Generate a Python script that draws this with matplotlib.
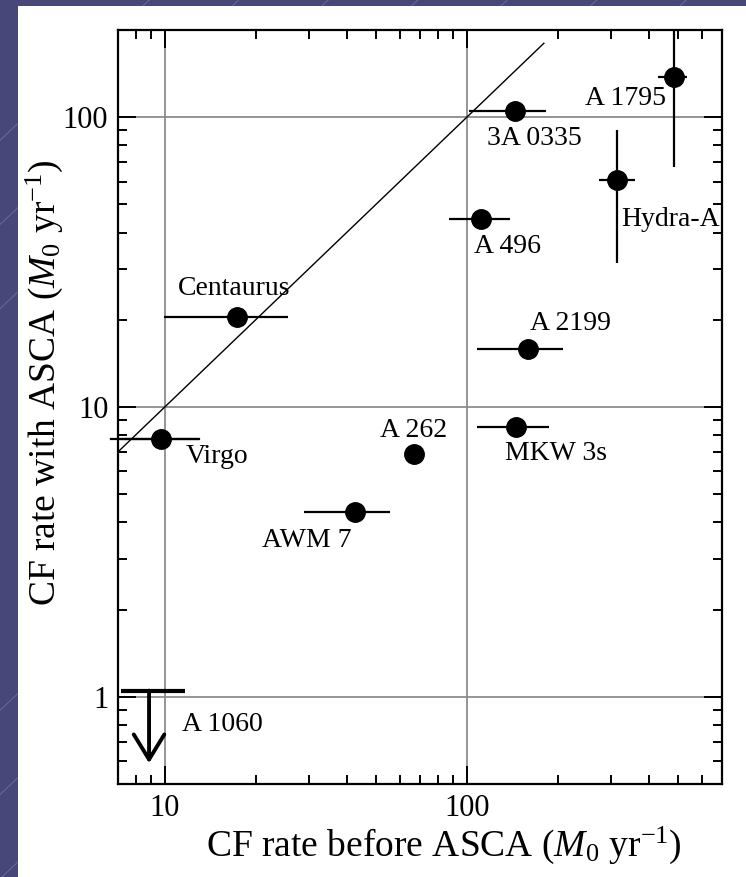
import matplotlib.pyplot as plt
from matplotlib.patches import Rectangle
from matplotlib.lines import Line2D
from matplotlib.ticker import FixedLocator, NullFormatter, FuncFormatter

plt.rcParams['font.family'] = ['Liberation Serif', 'DejaVu Serif']
plt.rcParams['mathtext.fontset'] = 'custom'
plt.rcParams['mathtext.rm'] = 'Liberation Serif'
plt.rcParams['mathtext.it'] = 'Liberation Serif:italic'

# cooling-flow clusters: rate before ASCA (x) vs rate with ASCA (y)
names = ['Virgo', 'Centaurus', 'AWM 7', 'A 262', '3A 0335', 'A 496',
         'A 2199', 'MKW 3s', 'Hydra-A', 'A 1795']
cf_before = [9.7, 17.3, 42.6, 66.8, 144.5, 111.8, 159, 146, 315, 484]
cf_asca = [7.74, 20.4, 4.35, 6.9, 105, 44.7, 15.9, 8.53, 60.5, 138]
x_lo = [6.65, 9.92, 29.0, 66.8, 101.8, 87.3, 108, 108, 275, 430]
x_hi = [13.0, 25.5, 55.6, 66.8, 183, 139, 208, 187.5, 361, 537]
y_lo = [7.74, 20.4, 4.35, 6.9, 105, 44.7, 15.9, 8.53, 31.5, 67.3]
y_hi = [7.74, 20.4, 4.35, 6.9, 105, 44.7, 15.9, 8.53, 90, 200]

# where each name sits (left edge, baseline)
label_x = [11.7, 11.07, 21.0, 51.7, 117, 105.7, 161.8, 133.6, 325, 245.5]
label_y = [6.41, 24.4, 3.29, 7.88, 80, 34.1, 18.4, 6.55, 42.1, 110.6]

# A 1060 only has an upper limit
lim_x = [7.14, 11.7]
lim_y = 1.05
lim_arrow_x = 8.87
lim_arrow_tip = 0.59

# equal-rate line
eq_line = [7, 180]

fig = plt.figure(figsize=(7.46, 8.77), dpi=100)
fig.patch.set_facecolor('#47477a')

# faint diagonal streaks on the slide background
for k in range(14):
    x0 = -0.3 + k * 0.12
    fig.add_artist(Line2D([x0, x0 + 0.5], [-0.05, 0.35],
                          transform=fig.transFigure, color='#8a8ab8',
                          lw=0.6, alpha=0.6, zorder=-3))
    fig.add_artist(Line2D([x0, x0 + 0.5], [0.6, 1.0],
                          transform=fig.transFigure, color='#8a8ab8',
                          lw=0.6, alpha=0.6, zorder=-3))
fig.add_artist(Rectangle((18 / 746, 0), 1, 1 - 6 / 877, transform=fig.transFigure,
                         facecolor='white', edgecolor='none', zorder=-1))

ax = fig.add_axes([118 / 746, 1 - 784 / 877, (722 - 118) / 746, (784 - 30) / 877])
ax.set_facecolor('white')
ax.set_xscale('log')
ax.set_yscale('log')
ax.set_xlim(7, 700)
ax.set_ylim(0.5, 200)

ax.xaxis.set_major_locator(FixedLocator([10, 100]))
ax.xaxis.set_minor_locator(FixedLocator([7, 8, 9, 20, 30, 40, 50, 60, 70, 80, 90,
                                         200, 300, 400, 500, 600, 700]))
ax.yaxis.set_major_locator(FixedLocator([1, 10, 100]))
ax.yaxis.set_minor_locator(FixedLocator([0.5, 0.6, 0.7, 0.8, 0.9, 2, 3, 4, 5, 6, 7, 8, 9,
                                         20, 30, 40, 50, 60, 70, 80, 90, 200]))
fmt = FuncFormatter(lambda v, p: '%d' % v)
ax.xaxis.set_major_formatter(fmt)
ax.yaxis.set_major_formatter(fmt)
ax.xaxis.set_minor_formatter(NullFormatter())
ax.yaxis.set_minor_formatter(NullFormatter())

ax.tick_params(which='both', direction='in', top=True, right=True, width=1.4,
               colors='black', labelsize=22, pad=7)
ax.tick_params(which='major', length=13)
ax.tick_params(which='minor', length=6.5)
for s in ax.spines.values():
    s.set_linewidth(1.6)

ax.grid(True, which='major', color='#8c8c8c', lw=1.3)
ax.set_axisbelow(True)

ax.plot(eq_line, eq_line, color='black', lw=1.0)

xerr = [[c - lo for c, lo in zip(cf_before, x_lo)], [hi - c for c, hi in zip(cf_before, x_hi)]]
yerr = [[c - lo for c, lo in zip(cf_asca, y_lo)], [hi - c for c, hi in zip(cf_asca, y_hi)]]
ax.errorbar(cf_before, cf_asca, xerr=xerr, yerr=yerr, fmt='o', color='black',
            ms=14, elinewidth=1.6, capsize=0, zorder=5)
# Virgo's bar runs past the left frame
ax.plot([x_lo[0], x_hi[0]], [cf_asca[0], cf_asca[0]], color='black', lw=1.6,
        clip_on=False, zorder=5)

for n, tx, ty in zip(names, label_x, label_y):
    ax.text(tx, ty, n, fontsize=20, ha='left', va='baseline', zorder=6)

# upper limit for A 1060
ax.plot(lim_x, [lim_y, lim_y], color='black', lw=3, solid_capstyle='butt')
ax.annotate('', xy=(lim_arrow_x, lim_arrow_tip), xytext=(lim_arrow_x, lim_y),
            arrowprops=dict(arrowstyle='->,head_length=1.8,head_width=1.1',
                            lw=2.8, color='black', mutation_scale=10,
                            shrinkA=0, shrinkB=0))
ax.text(11.36, 0.761, 'A 1060', fontsize=20, ha='left', va='baseline')

ax.set_xlabel('CF rate before ASCA ($M_0$ yr$^{-1}$)', fontsize=27)
ax.set_ylabel('CF rate with ASCA ($M_0$ yr$^{-1}$)', fontsize=27)
ax.xaxis.set_label_coords(0.54, -0.054)
ax.yaxis.set_label_coords(-0.088, 0.532)

fig.savefig('out.png', dpi=100, facecolor=fig.get_facecolor())
